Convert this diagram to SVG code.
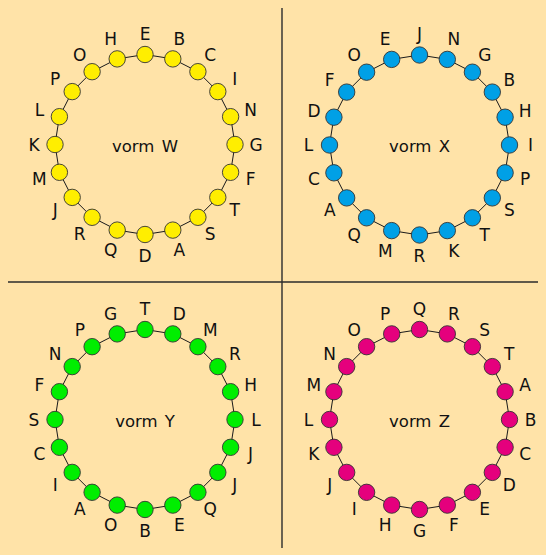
<svg xmlns="http://www.w3.org/2000/svg" width="546" height="555" viewBox="0 0 546 555">
<defs>
<style>
.bg{fill:#FFE3A8}
.div{stroke:#2b2b2b;stroke-width:1.4;fill:none}
.ring{fill:none;stroke:#1a1a1a;stroke-width:1}
.n circle{stroke:#333;stroke-width:0.9}
.w circle{fill:#FFEE00}
.x circle{fill:#00A0E6}
.y circle{fill:#00EE00}
.z circle{fill:#E5007D}
text{font-family:"DejaVu Sans",sans-serif;font-size:17px;fill:#111;text-anchor:middle}
.t{font-size:16.5px;word-spacing:2px}
</style>
</defs>
<rect class="bg" x="0" y="0" width="546" height="555"/>
<g id="dividers">
<line class="div" x1="282" y1="8" x2="282" y2="548"/>
<line class="div" x1="8" y1="282" x2="538" y2="282"/>
</g>
<g id="connectors">
<polygon class="ring" transform="translate(145,144.5)" points="0,-90 27.81,-85.6 52.9,-72.81 72.81,-52.9 85.6,-27.81 90,0 85.6,27.81 72.81,52.9 52.9,72.81 27.81,85.6 0,90 -27.81,85.6 -52.9,72.81 -72.81,52.9 -85.6,27.81 -90,0 -85.6,-27.81 -72.81,-52.9 -52.9,-72.81 -27.81,-85.6"/>
<polygon class="ring" transform="translate(419.5,145)" points="0,-90 27.81,-85.6 52.9,-72.81 72.81,-52.9 85.6,-27.81 90,0 85.6,27.81 72.81,52.9 52.9,72.81 27.81,85.6 0,90 -27.81,85.6 -52.9,72.81 -72.81,52.9 -85.6,27.81 -90,0 -85.6,-27.81 -72.81,-52.9 -52.9,-72.81 -27.81,-85.6"/>
<polygon class="ring" transform="translate(145,419.5)" points="0,-90 27.81,-85.6 52.9,-72.81 72.81,-52.9 85.6,-27.81 90,0 85.6,27.81 72.81,52.9 52.9,72.81 27.81,85.6 0,90 -27.81,85.6 -52.9,72.81 -72.81,52.9 -85.6,27.81 -90,0 -85.6,-27.81 -72.81,-52.9 -52.9,-72.81 -27.81,-85.6"/>
<polygon class="ring" transform="translate(419.5,419.5)" points="0,-90 27.81,-85.6 52.9,-72.81 72.81,-52.9 85.6,-27.81 90,0 85.6,27.81 72.81,52.9 52.9,72.81 27.81,85.6 0,90 -27.81,85.6 -52.9,72.81 -72.81,52.9 -85.6,27.81 -90,0 -85.6,-27.81 -72.81,-52.9 -52.9,-72.81 -27.81,-85.6"/>
</g>

<g id="vormW" class="w" transform="translate(145,144.5)">
<text class="t" x="0" y="7">vorm W</text>
<g id="W-E" class="n"><circle cx="0" cy="-90" r="8.2"/><text x="0" y="-105">E</text></g>
<g id="W-B" class="n"><circle cx="27.81" cy="-85.6" r="8.2"/><text x="34.3" y="-99.57">B</text></g>
<g id="W-C" class="n"><circle cx="52.9" cy="-72.81" r="8.2"/><text x="65.24" y="-83.8">C</text></g>
<g id="W-I" class="n"><circle cx="72.81" cy="-52.9" r="8.2"/><text x="89.8" y="-59.24">I</text></g>
<g id="W-N" class="n"><circle cx="85.6" cy="-27.81" r="8.2"/><text x="105.57" y="-28.3">N</text></g>
<g id="W-G" class="n"><circle cx="90" cy="0" r="8.2"/><text x="111" y="6">G</text></g>
<g id="W-F" class="n"><circle cx="85.6" cy="27.81" r="8.2"/><text x="105.57" y="40.3">F</text></g>
<g id="W-T" class="n"><circle cx="72.81" cy="52.9" r="8.2"/><text x="89.8" y="71.24">T</text></g>
<g id="W-S" class="n"><circle cx="52.9" cy="72.81" r="8.2"/><text x="65.24" y="95.8">S</text></g>
<g id="W-A" class="n"><circle cx="27.81" cy="85.6" r="8.2"/><text x="34.3" y="111.57">A</text></g>
<g id="W-D" class="n"><circle cx="0" cy="90" r="8.2"/><text x="0" y="117">D</text></g>
<g id="W-Q" class="n"><circle cx="-27.81" cy="85.6" r="8.2"/><text x="-34.3" y="111.57">Q</text></g>
<g id="W-R" class="n"><circle cx="-52.9" cy="72.81" r="8.2"/><text x="-65.24" y="95.8">R</text></g>
<g id="W-J" class="n"><circle cx="-72.81" cy="52.9" r="8.2"/><text x="-89.8" y="71.24">J</text></g>
<g id="W-M" class="n"><circle cx="-85.6" cy="27.81" r="8.2"/><text x="-105.57" y="40.3">M</text></g>
<g id="W-K" class="n"><circle cx="-90" cy="0" r="8.2"/><text x="-111" y="6">K</text></g>
<g id="W-L" class="n"><circle cx="-85.6" cy="-27.81" r="8.2"/><text x="-105.57" y="-28.3">L</text></g>
<g id="W-P" class="n"><circle cx="-72.81" cy="-52.9" r="8.2"/><text x="-89.8" y="-59.24">P</text></g>
<g id="W-O" class="n"><circle cx="-52.9" cy="-72.81" r="8.2"/><text x="-65.24" y="-83.8">O</text></g>
<g id="W-H" class="n"><circle cx="-27.81" cy="-85.6" r="8.2"/><text x="-34.3" y="-99.57">H</text></g>
</g>

<g id="vormX" class="x" transform="translate(419.5,145)">
<text class="t" x="0" y="7">vorm X</text>
<g id="X-J" class="n"><circle cx="0" cy="-90" r="8.2"/><text x="0" y="-105">J</text></g>
<g id="X-N" class="n"><circle cx="27.81" cy="-85.6" r="8.2"/><text x="34.3" y="-99.57">N</text></g>
<g id="X-G" class="n"><circle cx="52.9" cy="-72.81" r="8.2"/><text x="65.24" y="-83.8">G</text></g>
<g id="X-B" class="n"><circle cx="72.81" cy="-52.9" r="8.2"/><text x="89.8" y="-59.24">B</text></g>
<g id="X-H" class="n"><circle cx="85.6" cy="-27.81" r="8.2"/><text x="105.57" y="-28.3">H</text></g>
<g id="X-I" class="n"><circle cx="90" cy="0" r="8.2"/><text x="111" y="6">I</text></g>
<g id="X-P" class="n"><circle cx="85.6" cy="27.81" r="8.2"/><text x="105.57" y="40.3">P</text></g>
<g id="X-S" class="n"><circle cx="72.81" cy="52.9" r="8.2"/><text x="89.8" y="71.24">S</text></g>
<g id="X-T" class="n"><circle cx="52.9" cy="72.81" r="8.2"/><text x="65.24" y="95.8">T</text></g>
<g id="X-K" class="n"><circle cx="27.81" cy="85.6" r="8.2"/><text x="34.3" y="111.57">K</text></g>
<g id="X-R" class="n"><circle cx="0" cy="90" r="8.2"/><text x="0" y="117">R</text></g>
<g id="X-M" class="n"><circle cx="-27.81" cy="85.6" r="8.2"/><text x="-34.3" y="111.57">M</text></g>
<g id="X-Q" class="n"><circle cx="-52.9" cy="72.81" r="8.2"/><text x="-65.24" y="95.8">Q</text></g>
<g id="X-A" class="n"><circle cx="-72.81" cy="52.9" r="8.2"/><text x="-89.8" y="71.24">A</text></g>
<g id="X-C" class="n"><circle cx="-85.6" cy="27.81" r="8.2"/><text x="-105.57" y="40.3">C</text></g>
<g id="X-L" class="n"><circle cx="-90" cy="0" r="8.2"/><text x="-111" y="6">L</text></g>
<g id="X-D" class="n"><circle cx="-85.6" cy="-27.81" r="8.2"/><text x="-105.57" y="-28.3">D</text></g>
<g id="X-F" class="n"><circle cx="-72.81" cy="-52.9" r="8.2"/><text x="-89.8" y="-59.24">F</text></g>
<g id="X-O" class="n"><circle cx="-52.9" cy="-72.81" r="8.2"/><text x="-65.24" y="-83.8">O</text></g>
<g id="X-E" class="n"><circle cx="-27.81" cy="-85.6" r="8.2"/><text x="-34.3" y="-99.57">E</text></g>
</g>

<g id="vormY" class="y" transform="translate(145,419.5)">
<text class="t" x="0" y="7">vorm Y</text>
<g id="Y-T" class="n"><circle cx="0" cy="-90" r="8.2"/><text x="0" y="-105">T</text></g>
<g id="Y-D" class="n"><circle cx="27.81" cy="-85.6" r="8.2"/><text x="34.3" y="-99.57">D</text></g>
<g id="Y-M" class="n"><circle cx="52.9" cy="-72.81" r="8.2"/><text x="65.24" y="-83.8">M</text></g>
<g id="Y-R" class="n"><circle cx="72.81" cy="-52.9" r="8.2"/><text x="89.8" y="-59.24">R</text></g>
<g id="Y-H" class="n"><circle cx="85.6" cy="-27.81" r="8.2"/><text x="105.57" y="-28.3">H</text></g>
<g id="Y-L" class="n"><circle cx="90" cy="0" r="8.2"/><text x="111" y="6">L</text></g>
<g id="Y-J1" class="n"><circle cx="85.6" cy="27.81" r="8.2"/><text x="105.57" y="40.3">J</text></g>
<g id="Y-J2" class="n"><circle cx="72.81" cy="52.9" r="8.2"/><text x="89.8" y="71.24">J</text></g>
<g id="Y-Q" class="n"><circle cx="52.9" cy="72.81" r="8.2"/><text x="65.24" y="95.8">Q</text></g>
<g id="Y-E" class="n"><circle cx="27.81" cy="85.6" r="8.2"/><text x="34.3" y="111.57">E</text></g>
<g id="Y-B" class="n"><circle cx="0" cy="90" r="8.2"/><text x="0" y="117">B</text></g>
<g id="Y-O" class="n"><circle cx="-27.81" cy="85.6" r="8.2"/><text x="-34.3" y="111.57">O</text></g>
<g id="Y-A" class="n"><circle cx="-52.9" cy="72.81" r="8.2"/><text x="-65.24" y="95.8">A</text></g>
<g id="Y-I" class="n"><circle cx="-72.81" cy="52.9" r="8.2"/><text x="-89.8" y="71.24">I</text></g>
<g id="Y-C" class="n"><circle cx="-85.6" cy="27.81" r="8.2"/><text x="-105.57" y="40.3">C</text></g>
<g id="Y-S" class="n"><circle cx="-90" cy="0" r="8.2"/><text x="-111" y="6">S</text></g>
<g id="Y-F" class="n"><circle cx="-85.6" cy="-27.81" r="8.2"/><text x="-105.57" y="-28.3">F</text></g>
<g id="Y-N" class="n"><circle cx="-72.81" cy="-52.9" r="8.2"/><text x="-89.8" y="-59.24">N</text></g>
<g id="Y-P" class="n"><circle cx="-52.9" cy="-72.81" r="8.2"/><text x="-65.24" y="-83.8">P</text></g>
<g id="Y-G" class="n"><circle cx="-27.81" cy="-85.6" r="8.2"/><text x="-34.3" y="-99.57">G</text></g>
</g>

<g id="vormZ" class="z" transform="translate(419.5,419.5)">
<text class="t" x="0" y="7">vorm Z</text>
<g id="Z-Q" class="n"><circle cx="0" cy="-90" r="8.2"/><text x="0" y="-105">Q</text></g>
<g id="Z-R" class="n"><circle cx="27.81" cy="-85.6" r="8.2"/><text x="34.3" y="-99.57">R</text></g>
<g id="Z-S" class="n"><circle cx="52.9" cy="-72.81" r="8.2"/><text x="65.24" y="-83.8">S</text></g>
<g id="Z-T" class="n"><circle cx="72.81" cy="-52.9" r="8.2"/><text x="89.8" y="-59.24">T</text></g>
<g id="Z-A" class="n"><circle cx="85.6" cy="-27.81" r="8.2"/><text x="105.57" y="-28.3">A</text></g>
<g id="Z-B" class="n"><circle cx="90" cy="0" r="8.2"/><text x="111" y="6">B</text></g>
<g id="Z-C" class="n"><circle cx="85.6" cy="27.81" r="8.2"/><text x="105.57" y="40.3">C</text></g>
<g id="Z-D" class="n"><circle cx="72.81" cy="52.9" r="8.2"/><text x="89.8" y="71.24">D</text></g>
<g id="Z-E" class="n"><circle cx="52.9" cy="72.81" r="8.2"/><text x="65.24" y="95.8">E</text></g>
<g id="Z-F" class="n"><circle cx="27.81" cy="85.6" r="8.2"/><text x="34.3" y="111.57">F</text></g>
<g id="Z-G" class="n"><circle cx="0" cy="90" r="8.2"/><text x="0" y="117">G</text></g>
<g id="Z-H" class="n"><circle cx="-27.81" cy="85.6" r="8.2"/><text x="-34.3" y="111.57">H</text></g>
<g id="Z-I" class="n"><circle cx="-52.9" cy="72.81" r="8.2"/><text x="-65.24" y="95.8">I</text></g>
<g id="Z-J" class="n"><circle cx="-72.81" cy="52.9" r="8.2"/><text x="-89.8" y="71.24">J</text></g>
<g id="Z-K" class="n"><circle cx="-85.6" cy="27.81" r="8.2"/><text x="-105.57" y="40.3">K</text></g>
<g id="Z-L" class="n"><circle cx="-90" cy="0" r="8.2"/><text x="-111" y="6">L</text></g>
<g id="Z-M" class="n"><circle cx="-85.6" cy="-27.81" r="8.2"/><text x="-105.57" y="-28.3">M</text></g>
<g id="Z-N" class="n"><circle cx="-72.81" cy="-52.9" r="8.2"/><text x="-89.8" y="-59.24">N</text></g>
<g id="Z-O" class="n"><circle cx="-52.9" cy="-72.81" r="8.2"/><text x="-65.24" y="-83.8">O</text></g>
<g id="Z-P" class="n"><circle cx="-27.81" cy="-85.6" r="8.2"/><text x="-34.3" y="-99.57">P</text></g>
</g>
</svg>
